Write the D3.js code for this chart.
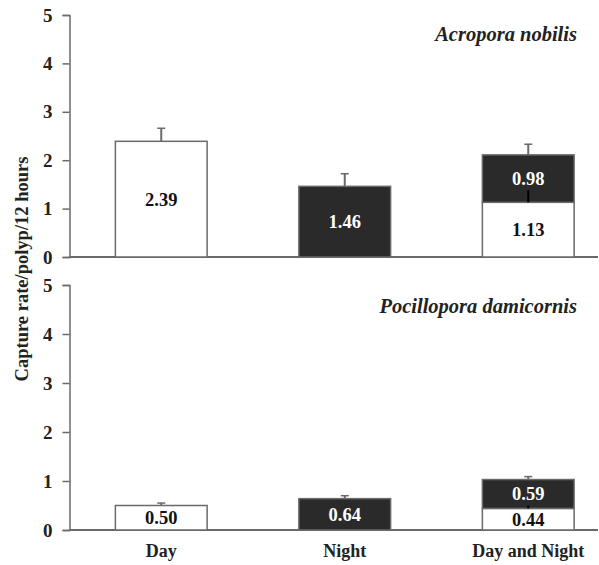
<!DOCTYPE html>
<html><head><meta charset="utf-8">
<script src="https://cdn.jsdelivr.net/npm/d3@7"></script>
<style>body{margin:0;background:#fff}svg{display:block}</style>
</head><body><div id="chart"></div>
<script>
const categories = ["Day", "Night", "Day and Night"];
const species = ["Acropora nobilis", "Pocillopora damicornis"];
// per panel values
const dayValues = [2.39, 0.50];
const nightValues = [1.46, 0.64];
const dnDayValues = [1.13, 0.44];
const dnNightValues = [0.98, 0.59];
const dayErr = [0.27, 0.05];
const nightErr = [0.26, 0.06];
const dnDayErr = [0.25, 0.06];
const dnTotalErr = [0.22, 0.06];
const yTicks = [0, 1, 2, 3, 4, 5];

const W = 599, H = 565;
const svg = d3.select("#chart").append("svg").attr("width", W).attr("height", H);
const font = "'Liberation Serif','Times New Roman',serif";
const axisColor = "#6a6a6a";
const dark = "#2a2a2a";

const x = d3.scaleBand().domain(categories).range([69.5, 620]).paddingInner(0.5).paddingOuter(0.25);
const panels = [{y0: 257, y1: 15, ty: 40.5}, {y0: 530, y1: 285, ty: 313}];

panels.forEach((p, i) => {
  const y = d3.scaleLinear().domain([0, 5]).range([p.y0, p.y1]);
  const g = svg.append("g");
  const ay = g.append("g").attr("transform", "translate(69.5,0)")
    .call(d3.axisLeft(y).tickValues(yTicks).tickSize(7).tickPadding(10).tickFormat(d3.format("d")));
  ay.select(".domain").attr("stroke", axisColor).attr("stroke-width", 1.5);
  ay.selectAll(".tick line").attr("stroke", axisColor).attr("stroke-width", 1.5);
  ay.selectAll("text").attr("font-family", font).attr("font-weight", "bold").attr("font-size", 19).attr("fill", "#222");
  g.append("line").attr("x1", 69.5).attr("x2", 598).attr("y1", y(0)).attr("y2", y(0))
    .attr("stroke", axisColor).attr("stroke-width", 2);

  const bw = x.bandwidth();
  const segs = [
    {cat: "Day", lo: 0, hi: dayValues[i], fill: "#fff", label: dayValues[i], tc: "#111"},
    {cat: "Night", lo: 0, hi: nightValues[i], fill: dark, label: nightValues[i], tc: "#fff"},
    {cat: "Day and Night", lo: 0, hi: dnDayValues[i], fill: "#fff", label: dnDayValues[i], tc: "#111"},
    {cat: "Day and Night", lo: dnDayValues[i], hi: dnDayValues[i] + dnNightValues[i], fill: dark, label: dnNightValues[i], tc: "#fff"}
  ];
  const errs = [
    {cat: "Day", v: dayValues[i], e: dayErr[i]},
    {cat: "Night", v: nightValues[i], e: nightErr[i]},
    {cat: "Day and Night", v: dnDayValues[i] + dnNightValues[i], e: dnTotalErr[i]}
  ];
  errs.forEach(d => {
    const cx = x(d.cat) + bw / 2;
    g.append("line").attr("x1", cx).attr("x2", cx).attr("y1", y(d.v)).attr("y2", y(d.v + d.e))
      .attr("stroke", axisColor).attr("stroke-width", 2);
    g.append("line").attr("x1", cx - 4).attr("x2", cx + 4).attr("y1", y(d.v + d.e)).attr("y2", y(d.v + d.e))
      .attr("stroke", axisColor).attr("stroke-width", 1.5);
  });
  segs.forEach(d => {
    g.append("rect").attr("x", x(d.cat)).attr("width", bw)
      .attr("y", y(d.hi)).attr("height", y(d.lo) - y(d.hi))
      .attr("fill", d.fill).attr("stroke", axisColor).attr("stroke-width", 1.5);
  });
  {
    const cx = x("Day and Night") + bw / 2, v = dnDayValues[i], e = dnDayErr[i];
    g.append("line").attr("x1", cx).attr("x2", cx).attr("y1", y(v)).attr("y2", y(v + e))
      .attr("stroke", "#000").attr("stroke-width", 2);
  }
  segs.forEach(d => {
    g.append("text").attr("x", x(d.cat) + bw / 2).attr("y", (y(d.lo) + y(d.hi)) / 2 + 6.5)
      .attr("text-anchor", "middle").attr("font-family", font).attr("font-weight", "bold")
      .attr("font-size", 18.5).attr("fill", d.tc).text(d3.format(".2f")(d.label));
  });
  g.append("text").attr("x", 577).attr("y", p.ty)
    .attr("text-anchor", "end").attr("font-family", font).attr("font-weight", "bold")
    .attr("font-style", "italic").attr("font-size", 20.5).attr("fill", "#222").text(species[i]);
});

categories.forEach(c => {
  svg.append("text").attr("x", x(c) + x.bandwidth() / 2).attr("y", 557)
    .attr("text-anchor", "middle").attr("font-family", font).attr("font-weight", "bold")
    .attr("font-size", 18).attr("fill", "#222").text(c);
});
svg.append("text").attr("transform", "translate(28,269) rotate(-90)")
  .attr("text-anchor", "middle").attr("font-family", font).attr("font-weight", "bold")
  .attr("font-size", 18.5).attr("fill", "#222").text("Capture rate/polyp/12 hours");
</script></body></html>
